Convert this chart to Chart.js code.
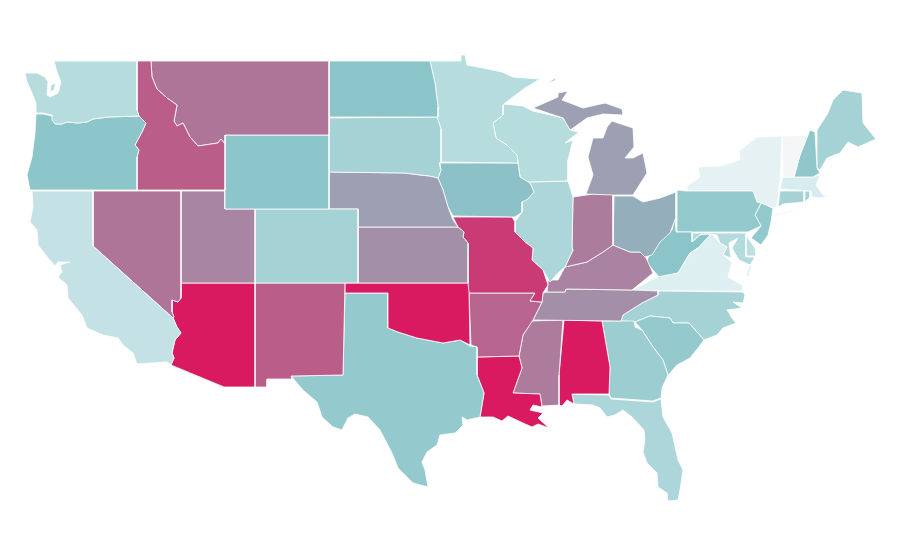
<!DOCTYPE html>
<html><head><meta charset="utf-8">
<script src="https://cdn.jsdelivr.net/npm/chart.js@4"></script>
<style>html,body{margin:0;padding:0;background:#fff}canvas{display:block}</style></head>
<body><canvas id="c" width="900" height="560"></canvas>
<script>
const stateNames=["WA","OR","CA","NV","ID","MT","WY","UT","AZ","CO","NM","ND","SD","NE","KS","OK","TX","MN","IA","MO","AR","LA","WI","IL","MI","IN","OH","KY","TN","MS","AL","GA","FL","SC","NC","VA","WV","PA","NY","VT","NH","ME","MA","CT","RI","NJ","DE","MD"];
const stateValues=[23.5,39.6,18.8,68,76.5,68,39.6,62,100,30.8,76.5,40,30.8,53,59,100,36.5,23.5,41,88.8,74,100,23.5,27.7,53,65.6,48,63,59,66,100,33.8,27.3,36.5,30.8,8.8,40,37.3,5.4,0,38.5,30.8,11.5,30.8,30.8,37.3,21,25];
const colorStops=[[0,[243,245,246]],[10,[219,238,240]],[40,[139,197,201]],[100,[217,26,96]]];
const WA=[[54,61],[137,61],[137,110],[139,116],[108,117],[93,119],[87,122],[78,123],[67,122],[62,124],[55,124],[52,120],[52,115],[43,113],[36,113],[36,103],[32,93],[27,82],[25,73],[37,73],[45,77],[48,82],[47,95],[50,97],[58,93],[61,82],[57,72]];
const WA_kitsap=[[51,85],[56,83],[54,90],[50,92]];
const OR=[[36,114],[43,114],[52,116],[53,121],[56,124],[62,124],[67,122],[78,123],[87,122],[93,119],[108,117],[139,116],[146,123],[142,132],[135,145],[139,150],[137,157],[137,190],[30,190],[27,175],[32,157],[35,133]];
const CA=[[32,191],[93,191],[93,246],[173,318],[177,327],[181,333],[175,340],[172,353],[174,358],[171,365],[167,362],[137,364],[133,353],[123,345],[118,338],[103,335],[87,328],[82,315],[68,298],[67,285],[58,277],[62,272],[60,265],[70,262],[58,262],[55,266],[48,258],[38,245],[37,230],[30,222],[33,207]];
const NV=[[93,191],[181,191],[181,298],[178,302],[172,300],[172,312],[174,317],[173,318],[93,246]];
const ID=[[137,61],[151,61],[152,77],[157,89],[167,98],[177,105],[174,121],[177,126],[183,123],[190,137],[198,146],[218,143],[221,139],[225,144],[225,190],[137,190],[137,157],[139,150],[135,145],[142,132],[146,123],[139,116],[137,110]];
const MT=[[151,61],[329,61],[329,135],[225,135],[225,144],[221,139],[218,143],[198,146],[190,137],[183,123],[177,126],[174,121],[177,105],[167,98],[157,89],[152,77]];
const WY=[[225,135],[329,135],[329,209],[225,209]];
const UT=[[181,191],[225,191],[225,209],[255,209],[255,283],[181,283]];
const AZ=[[181,283],[255,283],[255,387],[224,387],[171,365],[174,358],[172,353],[175,340],[181,333],[177,327],[173,318],[174,317],[172,312],[172,300],[178,302],[181,298]];
const CO=[[255,209],[358,209],[358,283],[255,283]];
const NM=[[255,283],[345,283],[343,375],[291,376],[292,379],[267,379],[267,387],[255,387]];
const ND=[[329,61],[430,61],[435,83],[438,107],[438,117],[329,117]];
const SD=[[329,118],[437,117],[441,129],[441,162],[439,163],[441,170],[438,178],[430,176],[420,175],[405,173],[329,172]];
const NE=[[329,172],[405,173],[420,175],[430,176],[438,178],[443,190],[448,207],[453,220],[458,227],[358,227],[358,209],[329,209]];
const KS=[[358,227],[458,227],[464,232],[463,237],[468,243],[468,283],[358,283]];
const OK=[[345,283],[468,283],[469,292],[470,345],[460,340],[443,343],[417,338],[398,332],[388,328],[388,293],[345,293]];
const TX=[[345,293],[388,293],[388,328],[398,332],[417,338],[443,343],[460,340],[470,346],[477,347],[477,375],[484,393],[480,417],[467,420],[462,417],[463,425],[455,433],[440,435],[437,445],[427,452],[422,462],[425,470],[428,487],[413,483],[398,468],[392,453],[380,430],[368,417],[355,414],[348,418],[342,430],[333,427],[322,417],[317,402],[303,390],[291,376],[343,375]];
const MN=[[430,61],[461,61],[461,55],[465,55],[467,65],[483,68],[502,72],[513,77],[525,78],[540,79],[525,88],[505,103],[503,105],[503,115],[493,123],[496,138],[507,145],[517,155],[518,163],[441,162],[441,129],[437,117],[438,107],[435,83]];
const IA=[[440,163],[518,163],[520,177],[530,183],[534,192],[528,199],[522,202],[522,212],[515,217],[453,216],[448,207],[443,190],[438,178],[441,170]];
const MO=[[453,217],[512,217],[515,222],[515,232],[525,242],[533,248],[532,260],[543,270],[547,282],[548,285],[543,293],[542,302],[530,301],[535,293],[468,293],[468,243],[463,237],[464,232],[458,227]];
const AR=[[469,293],[535,293],[530,301],[542,302],[533,320],[523,335],[519,356],[477,357],[477,347],[471,345]];
const LA=[[477,357],[519,356],[522,368],[513,393],[540,394],[542,407],[533,405],[530,410],[543,413],[538,418],[549,428],[538,424],[532,427],[523,423],[508,416],[502,421],[493,417],[480,417],[484,393],[477,375]];
const WI=[[503,104],[523,106],[533,111],[563,118],[570,130],[579,132],[565,143],[573,140],[568,160],[568,181],[527,182],[520,177],[518,163],[517,155],[507,145],[496,138],[493,123],[503,115]];
const IL=[[527,182],[568,181],[573,197],[572,247],[573,250],[565,267],[558,273],[550,282],[543,270],[532,260],[533,248],[525,242],[515,232],[515,222],[522,212],[522,202],[534,192],[530,183]];
const MI_upper=[[533,108],[558,97],[558,93],[568,91],[562,100],[583,108],[605,103],[622,109],[623,115],[603,114],[587,118],[573,128],[570,130],[563,118]];
const MI_lower=[[612,121],[633,128],[634,147],[625,158],[633,158],[643,153],[647,173],[633,195],[613,195],[586,194],[593,175],[588,157],[593,138],[603,138],[607,127]];
const MI_isle=[[549,82],[556,78],[556,80],[551,82]];
const IN=[[573,197],[593,194],[613,194],[613,245],[603,252],[587,262],[565,267],[573,250],[572,247]];
const OH=[[614,196],[633,196],[643,202],[660,198],[676,192],[676,217],[670,233],[660,242],[652,255],[645,257],[640,252],[630,252],[613,245]];
const KY=[[548,280],[558,280],[565,267],[587,262],[603,252],[613,245],[630,252],[643,252],[647,260],[653,273],[632,290],[566,289],[565,292],[547,292],[548,283]];
const TN=[[547,292],[565,292],[566,289],[632,290],[658,291],[658,295],[642,303],[623,315],[621,321],[533,320],[542,302],[543,293]];
const MS=[[532,321],[563,320],[559,375],[559,405],[542,406],[540,394],[513,393],[522,368],[519,356],[523,335]];
const AL=[[564,320],[602,321],[610,367],[609,394],[572,394],[574,404],[567,400],[562,406],[559,405],[559,375]];
const GA=[[602,321],[634,321],[635,327],[642,330],[653,347],[663,360],[668,375],[662,388],[661,398],[653,401],[611,398],[609,394],[610,367]];
const FL=[[572,394],[609,395],[611,399],[653,402],[661,399],[663,417],[672,433],[678,460],[683,470],[680,490],[678,500],[668,501],[667,493],[658,487],[657,473],[647,463],[643,452],[645,440],[644,430],[632,417],[623,410],[615,415],[607,417],[600,408],[593,405],[574,404]];
const SC=[[635,322],[650,316],[670,318],[673,323],[689,323],[704,340],[698,348],[690,358],[677,365],[670,373],[668,375],[663,360],[653,347],[642,330]];
const NC=[[658,291],[743,292],[745,295],[743,303],[733,302],[742,308],[727,310],[732,318],[736,323],[723,328],[717,335],[704,340],[689,323],[673,323],[670,318],[650,316],[635,322],[621,321],[623,315],[642,303],[658,295]];
const VA=[[632,290],[640,286],[657,277],[678,273],[690,253],[698,248],[708,237],[712,234],[720,243],[727,247],[723,255],[732,262],[728,277],[742,285],[743,291],[658,291]];
const VA_shore=[[752,266],[748,277],[746,276],[749,266]];
const WV=[[675,216],[676,232],[692,232],[692,242],[700,235],[708,234],[716,242],[708,238],[698,248],[690,253],[678,273],[660,278],[646,262],[652,250],[660,240],[672,230]];
const PA=[[677,190],[687,191],[753,191],[757,202],[761,203],[755,215],[761,226],[748,232],[677,232]];
const NY=[[687,186],[700,177],[698,167],[720,166],[740,160],[739,151],[757,137],[782,136],[780,180],[777,207],[773,208],[760,202],[757,202],[753,191],[687,191]];
const NY_island=[[773,215],[800,208],[790,212],[775,216]];
const VT=[[782,136],[808,135],[800,155],[794,177],[783,177]];
const NH=[[810,130],[815,132],[817,168],[820,173],[813,177],[794,177],[800,155],[808,135]];
const ME=[[817,130],[828,113],[833,100],[843,90],[862,93],[863,123],[876,139],[858,147],[848,142],[840,153],[827,158],[820,170],[817,168]];
const MA=[[783,177],[813,177],[820,175],[816,185],[823,195],[830,196],[820,198],[812,197],[811,191],[780,189]];
const CT=[[780,191],[804,191],[804,202],[783,204],[778,207]];
const RI=[[805,191],[810,191],[810,197],[805,202]];
const NJ=[[761,203],[773,208],[771,222],[768,235],[761,245],[751,238],[761,226],[755,215]];
const DE=[[747,233],[746,247],[746,256],[756,256],[755,248],[748,238]];
const MD=[[692,233],[746,233],[746,257],[755,257],[750,265],[739,260],[732,248],[738,238],[729,243],[731,258],[723,255],[727,247],[720,243],[717,235],[708,234],[700,235],[692,242]];

const outlineTable=[["WA",WA],["WA",WA_kitsap],["OR",OR],["CA",CA],["NV",NV],["ID",ID],["MT",MT],["WY",WY],["UT",UT],["AZ",AZ],["CO",CO],["NM",NM],["ND",ND],["SD",SD],["NE",NE],["KS",KS],["OK",OK],["TX",TX],["MN",MN],["IA",IA],["MO",MO],["AR",AR],["LA",LA],["WI",WI],["IL",IL],["MI",MI_upper],["MI",MI_lower],["MI",MI_isle],["IN",IN],["OH",OH],["KY",KY],["TN",TN],["MS",MS],["AL",AL],["GA",GA],["FL",FL],["SC",SC],["NC",NC],["VA",VA],["VA",VA_shore],["WV",WV],["PA",PA],["NY",NY],["NY",NY_island],["VT",VT],["NH",NH],["ME",ME],["MA",MA],["CT",CT],["RI",RI],["NJ",NJ],["DE",DE],["MD",MD]];

function colorFor(v){
  for(let i=1;i<colorStops.length;i++){
    const [a,ca]=colorStops[i-1],[b,cb]=colorStops[i];
    if(v<=b){const t=(v-a)/(b-a);const m=ca.map((c,k)=>Math.round(c+(cb[k]-c)*t));return `rgb(${m[0]},${m[1]},${m[2]})`;}
  }
  return 'rgb(217,26,96)';
}
const datasets=outlineTable.map(([st,pts])=>{
  const v=stateValues[stateNames.indexOf(st)];
  const data=pts.concat([pts[0]]).map(p=>({x:p[0],y:p[1]}));
  return {label:st,data,showLine:true,fill:'shape',backgroundColor:colorFor(v),borderColor:'#fff',borderWidth:0.8,pointRadius:0,pointHoverRadius:0,tension:0,clip:false};
});
new Chart(document.getElementById('c'),{type:'scatter',data:{datasets},options:{
  responsive:false,animation:false,layout:{padding:0},
  plugins:{legend:{display:false},tooltip:{enabled:false},title:{display:false}},
  scales:{x:{type:'linear',min:0,max:900,display:false},y:{type:'linear',min:0,max:560,reverse:true,display:false}}
}});
</script></body></html>
